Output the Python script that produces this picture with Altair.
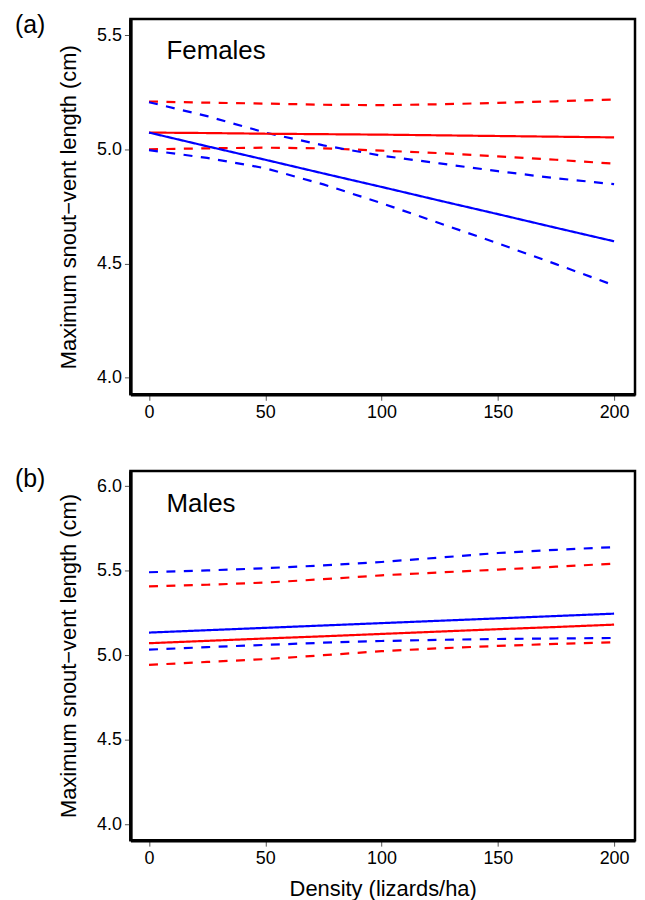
import altair as alt
import pandas as pd

# Density (lizards/ha) at which the fitted curves were read
density = [0, 25, 50, 75, 100, 125, 150, 175, 200]

# Females: red and blue fits (solid) with confidence limits (dashed)
fem_red_fit = [5.073, 5.071, 5.068, 5.066, 5.064, 5.061, 5.058, 5.055, 5.052]
fem_red_upper = [5.209, 5.204, 5.200, 5.195, 5.193, 5.197, 5.203, 5.210, 5.218]
fem_red_lower = [5.000, 5.004, 5.007, 5.004, 4.994, 4.983, 4.969, 4.954, 4.937]
fem_blue_fit = [5.073, 5.013, 4.954, 4.894, 4.835, 4.775, 4.716, 4.656, 4.597]
fem_blue_upper = [5.206, 5.145, 5.073, 5.017, 4.972, 4.938, 4.904, 4.873, 4.847]
fem_blue_lower = [4.996, 4.962, 4.917, 4.846, 4.764, 4.676, 4.588, 4.497, 4.404]

# Males
mal_red_fit = [5.071, 5.085, 5.099, 5.112, 5.126, 5.140, 5.154, 5.167, 5.181]
mal_red_upper = [5.407, 5.417, 5.430, 5.450, 5.473, 5.490, 5.507, 5.524, 5.542]
mal_red_lower = [4.943, 4.960, 4.977, 5.000, 5.024, 5.041, 5.055, 5.067, 5.077]
mal_blue_fit = [5.134, 5.148, 5.162, 5.176, 5.190, 5.204, 5.218, 5.232, 5.246]
mal_blue_upper = [5.491, 5.502, 5.515, 5.532, 5.552, 5.578, 5.605, 5.624, 5.640]
mal_blue_lower = [5.033, 5.048, 5.061, 5.074, 5.084, 5.091, 5.096, 5.099, 5.102]

x_ticks = [0, 50, 100, 150, 200]
fem_y_ticks = [4.0, 4.5, 5.0, 5.5]
mal_y_ticks = [4.0, 4.5, 5.0, 5.5, 6.0]

FONT = "Liberation Sans"


def build(series):
    rows = []
    for group, kind, line_id, vals in series:
        for d, v in zip(density, vals):
            rows.append({"density": d, "svl": v, "group": group, "band": kind, "line": line_id})
    return pd.DataFrame(rows)


fem_df = build([
    ("red", "ci", "r_up", fem_red_upper),
    ("red", "ci", "r_lo", fem_red_lower),
    ("blue", "ci", "b_up", fem_blue_upper),
    ("blue", "ci", "b_lo", fem_blue_lower),
    ("red", "fit", "r_fit", fem_red_fit),
    ("blue", "fit", "b_fit", fem_blue_fit),
])
mal_df = build([
    ("red", "ci", "r_up", mal_red_upper),
    ("red", "ci", "r_lo", mal_red_lower),
    ("blue", "ci", "b_up", mal_blue_upper),
    ("blue", "ci", "b_lo", mal_blue_lower),
    ("red", "fit", "r_fit", mal_red_fit),
    ("blue", "fit", "b_fit", mal_blue_fit),
])


def panel(df, ydom, yticks, height, tag, sex, sex_y, tag_y, xtitle):
    xs = alt.Scale(domain=[-8, 209], nice=False, zero=False)
    ys = alt.Scale(domain=ydom, nice=False, zero=False)
    xaxis = alt.Axis(values=x_ticks, format="d", title=xtitle) if xtitle else alt.Axis(values=x_ticks, format="d", title=None)
    lines = alt.Chart(df).mark_line(strokeWidth=2.2, clip=True).encode(
        x=alt.X("density:Q", scale=xs, axis=xaxis),
        y=alt.Y("svl:Q", scale=ys,
                axis=alt.Axis(values=yticks, format=".1f",
                              title="Maximum snout\u2212vent length (cm)")),
        color=alt.Color("group:N", scale=alt.Scale(domain=["red", "blue"], range=["#ff0000", "#0000ff"]), legend=None),
        strokeDash=alt.StrokeDash("band:N", scale=alt.Scale(domain=["fit", "ci"], range=[[1, 0], [9, 8.5]]), legend=None),
        detail="line:N",
        order=alt.Order("density:Q"),
    )
    sex_text = alt.Chart(pd.DataFrame({"t": [sex]})).mark_text(
        align="left", baseline="alphabetic", fontSize=26, font=FONT, color="black"
    ).encode(x=alt.datum(7.5, scale=xs), y=alt.datum(sex_y), text="t:N")
    tag_text = alt.Chart(pd.DataFrame({"t": [tag]})).mark_text(
        align="left", baseline="top", fontSize=25, font=FONT, color="black"
    ).encode(x=alt.value(-116), y=alt.value(tag_y), text="t:N")
    return alt.layer(lines, sex_text, tag_text).properties(width=507, height=height)


top = panel(fem_df, [3.927, 5.570], fem_y_ticks, 377, "(a)", "Females", 5.397, -6.5, None)
bottom = panel(mal_df, [3.905, 6.091], mal_y_ticks, 371, "(b)", "Males", 5.849, -3.5, "Density (lizards/ha)")

chart = alt.vconcat(top, bottom, spacing=43).properties(
    padding={"left": 5, "top": 1, "right": 0, "bottom": 0}
).configure_view(
    stroke="black", strokeWidth=2.5
).configure_axis(
    grid=False,
    domainColor="black", domainWidth=3.5,
    tickColor="#555555", tickSize=6, tickWidth=1,
    labelFont=FONT, labelFontSize=18, labelColor="black", labelPadding=3,
    titleFont=FONT, titleFontSize=22, titleFontWeight="normal", titleColor="black",
).configure_axisY(
    titlePadding=16,
).configure_axisX(
    titlePadding=12,
)

chart.save("out.html", embed_options={"renderer": "svg", "actions": False})
